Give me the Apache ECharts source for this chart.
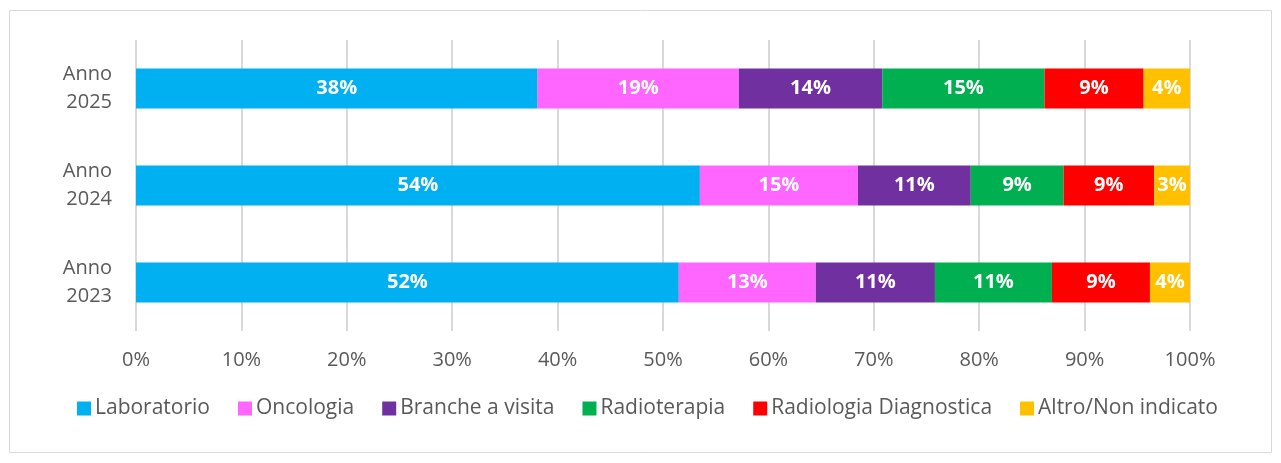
<!DOCTYPE html>
<html><head><meta charset="utf-8">
<script src="https://cdn.jsdelivr.net/npm/echarts@6/dist/echarts.min.js"></script>
<style>html,body{margin:0;padding:0;background:#fff}#c{width:1281px;height:463px}</style>
</head><body><div id="c"></div>
<script>
const categories = ['Anno\n2023', 'Anno\n2024', 'Anno\n2025'];
const seriesNames = ['Laboratorio', 'Oncologia', 'Branche a visita', 'Radioterapia', 'Radiologia Diagnostica', 'Altro/Non indicato'];
const laboratorio = [51.5, 53.5, 38.1];
const oncologia = [13.0, 15.0, 19.1];
const brancheVisita = [11.3, 10.7, 13.6];
const radioterapia = [11.1, 8.8, 15.4];
const radiologia = [9.3, 8.6, 9.4];
const altro = [3.8, 3.4, 4.4];
const xTicks = [0, 10, 20, 30, 40, 50, 60, 70, 80, 90, 100];
const colors = ['#00B0F0', '#FF66FF', '#7030A0', '#00B050', '#FF0000', '#FFC000'];

const allData = [laboratorio, oncologia, brancheVisita, radioterapia, radiologia, altro];
const FONT = 'Open Sans';
const chart = echarts.init(document.getElementById('c'), null, {renderer: 'canvas'});
chart.setOption({
  animation: false,
  textStyle: {fontFamily: FONT},
  graphic: [{type: 'rect', shape: {x: 9.5, y: 10.5, width: 1262, height: 442}, style: {fill: 'none', stroke: '#d9d9d9', lineWidth: 1}, silent: true}],
  grid: {left: 136, right: 91, top: 40, bottom: 132, containLabel: false},
  legend: {
    data: seriesNames, top: 393, left: 72, icon: 'rect', itemWidth: 14, itemHeight: 14, itemGap: 28, itemStyle: {borderWidth: 0},
    textStyle: {color: '#595959', fontSize: 21, fontFamily: FONT, padding: [0, 0, 0, -1]}
  },
  xAxis: {
    type: 'value', min: 0, max: 100, interval: 10,
    axisLine: {show: false}, axisTick: {show: false},
    axisLabel: {formatter: v => xTicks.includes(v) ? v + '%' : '', color: '#595959', fontSize: 20, margin: 19, fontFamily: FONT},
    splitLine: {show: true, lineStyle: {color: '#d9d9d9', width: 2}}
  },
  yAxis: {
    type: 'category', data: categories,
    axisLine: {show: false}, axisTick: {show: false},
    axisLabel: {color: '#595959', fontSize: 20, margin: 24, lineHeight: 28, fontFamily: FONT, align: 'right'}
  },
  series: seriesNames.map((n, i) => ({
    name: n, type: 'bar', stack: 'total', data: allData[i], barWidth: 40,
    itemStyle: {color: colors[i]},
    label: {show: true, position: 'inside', color: '#fff', fontWeight: 'bold', fontSize: 20, fontFamily: FONT,
      formatter: p => Math.round(p.value) + '%'}
  }))
});
</script></body></html>
